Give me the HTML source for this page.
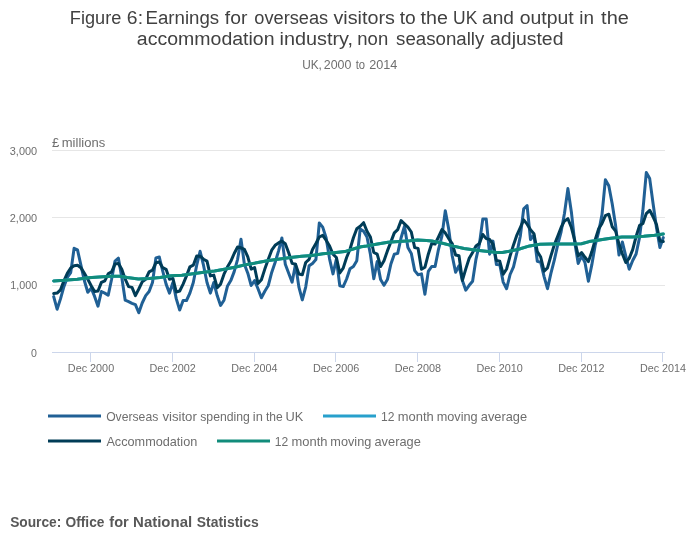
<!DOCTYPE html>
<html lang="en"><head><meta charset="utf-8"><title>Figure 6: Earnings for overseas visitors to the UK and output in the accommodation industry</title>
<style>
html,body{margin:0;padding:0;background:#fff;}
body{width:700px;height:549px;overflow:hidden;font-family:"Liberation Sans",sans-serif;}
svg{display:block;}
text{font-family:"Liberation Sans",sans-serif;}
.t{font-size:18px;fill:#414141;}
.st{font-size:12px;fill:#6e6e6e;}
.ax{font-size:10.5px;fill:#6e6e6e;}
.lg{font-size:13px;fill:#6e6e6e;}
.src{font-size:14px;font-weight:bold;fill:#585858;}
</style></head><body>
<svg width="700" height="549" viewBox="0 0 700 549">
<rect width="700" height="549" fill="#fff"/>
<!-- grid + axes -->
<path d="M52 150.5H665M52 217.5H665M52 285.5H665" stroke="#e6e6e6" stroke-width="1" shape-rendering="crispEdges"/>
<path d="M52 352.5H665" stroke="#ccd6eb" stroke-width="1" shape-rendering="crispEdges"/>
<path d="M90.5 352v10M172.5 352v10M254.5 352v10M335.5 352v10M417.5 352v10M499.5 352v10M581.5 352v10M662.5 352v10" stroke="#ccd6eb" stroke-width="1" shape-rendering="crispEdges"/>
<!-- series -->
<g fill="none" stroke-width="3" stroke-linejoin="round" stroke-linecap="round">
<path stroke="#206095" d="M53.7 296.6 L57.1 309.2 L60.5 298.9 L63.9 286.6 L67.3 277.5 L70.7 272.6 L74.1 248.3 L77.5 249.9 L80.9 265.2 L84.4 280.8 L87.8 292.3 L91.2 288.2 L94.6 296.4 L98.0 306.2 L101.4 291.5 L104.8 293.1 L108.2 295.2 L111.6 279.2 L115.0 261.1 L118.4 258.2 L121.8 277.5 L125.2 300.2 L128.6 301.6 L132.0 303.3 L135.4 304.6 L138.8 312.8 L142.2 303.0 L145.7 295.6 L149.1 291.5 L152.5 282.5 L155.9 257.9 L159.3 257.0 L162.7 271.0 L166.1 284.1 L169.5 293.1 L172.9 282.5 L176.3 298.9 L179.7 310.0 L183.1 300.5 L186.5 300.5 L189.9 293.1 L193.3 282.5 L196.7 265.2 L200.1 251.3 L203.5 265.2 L207.0 282.5 L210.4 293.1 L213.8 282.5 L217.2 295.6 L220.6 305.4 L224.0 300.2 L227.4 286.3 L230.8 280.6 L234.2 271.6 L237.6 259.3 L241.0 239.3 L244.4 264.2 L247.8 273.2 L251.2 285.5 L254.6 280.6 L258.0 288.8 L261.4 297.8 L264.8 291.2 L268.3 285.5 L271.7 272.4 L275.1 262.5 L278.5 251.1 L281.9 238.0 L285.3 264.2 L288.7 273.2 L292.1 282.2 L295.5 264.2 L298.9 287.1 L302.3 299.9 L305.7 287.1 L309.1 265.8 L312.5 263.4 L315.9 259.5 L319.3 223.0 L322.7 227.1 L326.1 237.8 L329.6 259.1 L333.0 273.9 L336.4 259.1 L339.8 285.7 L343.2 286.6 L346.6 279.0 L350.0 268.8 L353.4 266.5 L356.8 260.7 L360.2 228.9 L363.6 231.2 L367.0 237.0 L370.4 254.2 L373.8 278.8 L377.2 261.6 L380.6 279.6 L384.0 285.3 L387.4 279.6 L390.9 264.0 L394.3 254.2 L397.7 253.4 L401.1 237.8 L404.5 226.3 L407.9 247.6 L411.3 253.4 L414.7 270.6 L418.1 274.7 L421.5 273.9 L424.9 294.3 L428.3 271.4 L431.7 266.5 L435.1 266.5 L438.5 249.3 L441.9 236.1 L445.3 210.7 L448.7 229.0 L452.2 255.8 L455.6 272.2 L459.0 265.7 L462.4 280.4 L465.8 290.2 L469.2 285.3 L472.6 281.2 L476.0 259.1 L479.4 244.3 L482.8 218.9 L486.2 218.9 L489.6 254.2 L493.0 241.1 L496.4 264.6 L499.8 264.8 L503.2 282.1 L506.6 288.7 L510.1 274.5 L513.5 266.8 L516.9 252.6 L520.3 236.2 L523.7 208.9 L527.1 205.6 L530.5 239.5 L533.9 235.1 L537.3 261.3 L540.7 262.4 L544.1 276.6 L547.5 288.7 L550.9 273.4 L554.3 260.2 L557.7 244.9 L561.1 231.8 L564.5 213.3 L567.9 188.6 L571.4 212.2 L574.8 242.8 L578.2 263.5 L581.6 255.9 L585.0 262.7 L588.4 281.2 L591.8 264.9 L595.2 245.2 L598.6 232.1 L602.0 214.6 L605.4 179.7 L608.8 185.8 L612.2 203.7 L615.6 225.6 L619.0 255.1 L622.4 242.0 L625.8 256.2 L629.2 269.2 L632.7 260.5 L636.1 254.0 L639.5 237.6 L642.9 210.3 L646.3 172.6 L649.7 178.6 L653.1 203.7 L656.5 227.8 L659.9 247.4 L663.3 237.6"/>
<path stroke="#003c57" d="M53.7 293.6 L57.1 293.1 L60.5 289.8 L63.9 280.8 L67.3 273.4 L70.7 268.0 L74.1 265.7 L77.5 265.2 L80.9 267.7 L84.4 273.4 L87.8 279.2 L91.2 285.7 L94.6 291.5 L98.0 291.0 L101.4 282.4 L104.8 280.8 L108.2 273.9 L111.6 271.8 L115.0 264.1 L118.4 263.6 L121.8 269.3 L125.2 279.2 L128.6 286.6 L132.0 287.4 L135.4 295.6 L138.8 289.0 L142.2 281.8 L145.7 279.2 L149.1 271.8 L152.5 270.2 L155.9 262.8 L159.3 262.0 L162.7 267.7 L166.1 269.3 L169.5 279.2 L172.9 278.4 L176.3 292.0 L179.7 291.0 L183.1 284.1 L186.5 275.9 L189.9 266.9 L193.3 265.2 L196.7 255.9 L200.1 256.2 L203.5 259.2 L207.0 261.1 L210.4 275.9 L213.8 275.1 L217.2 287.7 L220.6 284.1 L224.0 274.2 L227.4 267.1 L230.8 261.3 L234.2 253.5 L237.6 247.0 L241.0 247.8 L244.4 249.4 L247.8 256.8 L251.2 269.1 L254.6 267.5 L258.0 283.5 L261.4 279.8 L264.8 269.1 L268.3 259.3 L271.7 250.2 L275.1 245.3 L278.5 242.9 L281.9 241.2 L285.3 243.7 L288.7 252.7 L292.1 263.4 L295.5 264.2 L298.9 274.0 L302.3 274.8 L305.7 262.5 L309.1 259.3 L312.5 249.4 L315.9 243.5 L319.3 237.0 L322.7 235.3 L326.1 240.2 L329.6 246.0 L333.0 254.2 L336.4 257.5 L339.8 273.0 L343.2 268.1 L346.6 257.5 L350.0 249.3 L353.4 237.8 L356.8 228.8 L360.2 226.3 L363.6 222.7 L367.0 231.2 L370.4 237.0 L373.8 252.5 L377.2 254.2 L380.6 266.5 L384.0 260.7 L387.4 250.9 L390.9 241.9 L394.3 232.9 L397.7 229.6 L401.1 220.6 L404.5 223.9 L407.9 227.1 L411.3 232.0 L414.7 247.6 L418.1 248.4 L421.5 269.3 L424.9 267.3 L428.3 254.2 L431.7 243.5 L435.1 244.0 L438.5 237.0 L441.9 229.6 L445.3 232.9 L448.7 238.6 L452.2 243.5 L455.6 255.0 L459.0 255.8 L462.4 280.4 L465.8 268.9 L469.2 258.3 L472.6 252.5 L476.0 246.0 L479.4 243.5 L482.8 234.5 L486.2 238.6 L489.6 239.4 L493.0 244.3 L496.4 260.5 L499.8 261.3 L503.2 274.2 L506.6 269.0 L510.1 255.9 L513.5 244.9 L516.9 235.1 L520.3 227.5 L523.7 219.8 L527.1 224.2 L530.5 229.6 L533.9 233.6 L537.3 251.5 L540.7 257.0 L544.1 271.2 L547.5 267.9 L550.9 255.9 L554.3 244.9 L557.7 236.2 L561.1 227.5 L564.5 220.9 L567.9 218.7 L571.4 227.5 L574.8 240.6 L578.2 255.9 L581.6 252.6 L585.0 257.3 L588.4 261.6 L591.8 251.8 L595.2 239.8 L598.6 228.9 L602.0 223.4 L605.4 215.7 L608.8 214.2 L612.2 226.7 L615.6 231.0 L619.0 244.2 L622.4 254.0 L625.8 262.5 L629.2 258.4 L632.7 249.6 L636.1 236.5 L639.5 225.6 L642.9 223.4 L646.3 213.6 L649.7 210.3 L653.1 216.8 L656.5 224.5 L659.9 241.0 L663.3 241.5"/>
<path stroke="#27a0cc" d="M53.7 280.9 L64.2 280.3 L77.3 279.2 L88.3 277.8 L99.2 277.0 L110.9 276.3 L119.7 276.3 L127.3 277.6 L138.3 278.9 L149.2 278.4 L160.1 277.4 L171.0 275.7 L181.9 275.3 L192.8 273.7 L203.7 272.3 L214.6 271.0 L225.6 269.0 L236.0 267.0 L246.9 264.4 L257.9 262.6 L268.8 260.6 L279.7 259.0 L290.6 257.5 L301.6 256.2 L312.0 255.5 L322.9 253.8 L333.9 252.7 L344.8 251.6 L355.7 248.3 L361.2 246.7 L366.6 245.9 L377.6 244.0 L388.0 242.3 L398.9 241.5 L409.9 240.8 L417.5 239.9 L426.3 240.5 L431.7 240.9 L442.6 243.3 L453.6 246.1 L464.0 248.5 L474.9 250.0 L485.9 251.3 L496.8 252.4 L502.3 252.4 L507.7 251.6 L518.6 249.2 L529.6 245.9 L540.0 244.2 L550.9 244.0 L561.9 244.0 L572.8 244.0 L581.5 243.8 L589.2 241.6 L594.6 240.8 L605.6 238.9 L610.9 238.2 L621.9 237.1 L632.8 236.9 L643.7 236.3 L654.6 235.2 L663.3 233.9"/>
<path stroke="#118c7b" d="M53.7 280.9 L64.2 280.3 L77.3 279.2 L88.3 277.8 L99.2 277.0 L110.9 276.3 L119.7 276.3 L127.3 277.6 L138.3 278.9 L149.2 278.4 L160.1 277.4 L171.0 275.7 L181.9 275.3 L192.8 273.7 L203.7 272.3 L214.6 271.0 L225.6 269.0 L236.0 267.0 L246.9 264.4 L257.9 262.6 L268.8 260.6 L279.7 259.0 L290.6 257.5 L301.6 256.2 L312.0 255.5 L322.9 253.8 L333.9 252.7 L344.8 251.6 L355.7 248.3 L361.2 246.7 L366.6 245.9 L377.6 244.0 L388.0 242.3 L398.9 241.5 L409.9 240.8 L417.5 239.9 L426.3 240.5 L431.7 240.9 L442.6 243.3 L453.6 246.1 L464.0 248.5 L474.9 250.0 L485.9 251.3 L496.8 252.4 L502.3 252.4 L507.7 251.6 L518.6 249.2 L529.6 245.9 L540.0 244.2 L550.9 244.0 L561.9 244.0 L572.8 244.0 L581.5 243.8 L589.2 241.6 L594.6 240.8 L605.6 238.9 L610.9 238.2 L621.9 237.1 L632.8 236.9 L643.7 236.3 L654.6 235.2 L663.3 233.9"/>
</g>
<!-- legend symbols -->
<g stroke-width="3" fill="none">
<path d="M48 416H101" stroke="#206095"/>
<path d="M323 416H376" stroke="#27a0cc"/>
<path d="M48 441H101" stroke="#003c57"/>
<path d="M217 441H270" stroke="#118c7b"/>
</g>
<!-- text (own compositing layer forces greyscale anti-aliasing) -->
<g style="will-change:transform">
<text class="t" x="69.89" y="23.6" textLength="51.5" lengthAdjust="spacingAndGlyphs">Figure</text>
<text class="t" x="126.89" y="23.6" textLength="16.13" lengthAdjust="spacingAndGlyphs">6:</text>
<text class="t" x="145.55" y="23.6" textLength="73.62" lengthAdjust="spacingAndGlyphs">Earnings</text>
<text class="t" x="224.83" y="23.6" textLength="22.55" lengthAdjust="spacingAndGlyphs">for</text>
<text class="t" x="254.34" y="23.6" textLength="73.91" lengthAdjust="spacingAndGlyphs">overseas</text>
<text class="t" x="333.4" y="23.6" textLength="61.47" lengthAdjust="spacingAndGlyphs">visitors</text>
<text class="t" x="399.73" y="23.6" textLength="15.98" lengthAdjust="spacingAndGlyphs">to</text>
<text class="t" x="420.63" y="23.6" textLength="27.33" lengthAdjust="spacingAndGlyphs">the</text>
<text class="t" x="453.09" y="23.6" textLength="24.27" lengthAdjust="spacingAndGlyphs">UK</text>
<text class="t" x="482.1" y="23.6" textLength="31.91" lengthAdjust="spacingAndGlyphs">and</text>
<text class="t" x="519.79" y="23.6" textLength="53.96" lengthAdjust="spacingAndGlyphs">output</text>
<text class="t" x="579.29" y="23.6" textLength="14.67" lengthAdjust="spacingAndGlyphs">in</text>
<text class="t" x="601.12" y="23.6" textLength="27.74" lengthAdjust="spacingAndGlyphs">the</text>
<text class="t" x="136.89" y="44.6" textLength="137.68" lengthAdjust="spacingAndGlyphs">accommodation</text>
<text class="t" x="279.52" y="44.6" textLength="73.48" lengthAdjust="spacingAndGlyphs">industry,</text>
<text class="t" x="357.32" y="44.6" textLength="30.86" lengthAdjust="spacingAndGlyphs">non</text>
<text class="t" x="396.08" y="44.6" textLength="88.28" lengthAdjust="spacingAndGlyphs">seasonally</text>
<text class="t" x="490.09" y="44.6" textLength="73.35" lengthAdjust="spacingAndGlyphs">adjusted</text>
<text class="st" x="302.16" y="68.5" textLength="19.74" lengthAdjust="spacingAndGlyphs">UK,</text>
<text class="st" x="323.78" y="68.5" textLength="27.58" lengthAdjust="spacingAndGlyphs">2000</text>
<text class="st" x="355.7" y="68.5" textLength="9.38" lengthAdjust="spacingAndGlyphs">to</text>
<text class="st" x="369.17" y="68.5" textLength="28.14" lengthAdjust="spacingAndGlyphs">2014</text>
<text class="st" x="52.03" y="147.1" textLength="7.28" lengthAdjust="spacingAndGlyphs">£</text>
<text class="st" x="61.79" y="147.1" textLength="43.37" lengthAdjust="spacingAndGlyphs">millions</text>
<text class="ax" x="9.78" y="154.6" textLength="27.41" lengthAdjust="spacingAndGlyphs">3,000</text>
<text class="ax" x="9.78" y="221.8" textLength="27.41" lengthAdjust="spacingAndGlyphs">2,000</text>
<text class="ax" x="10.33" y="289.0" textLength="26.85" lengthAdjust="spacingAndGlyphs">1,000</text>
<text class="ax" x="30.95" y="356.5" textLength="5.9" lengthAdjust="spacingAndGlyphs">0</text>
<text class="ax" x="67.83" y="371.7" textLength="46.34" lengthAdjust="spacingAndGlyphs">Dec 2000</text>
<text class="ax" x="149.56" y="371.7" textLength="46.34" lengthAdjust="spacingAndGlyphs">Dec 2002</text>
<text class="ax" x="231.3" y="371.7" textLength="46.08" lengthAdjust="spacingAndGlyphs">Dec 2004</text>
<text class="ax" x="313.03" y="371.7" textLength="46.34" lengthAdjust="spacingAndGlyphs">Dec 2006</text>
<text class="ax" x="394.76" y="371.7" textLength="46.34" lengthAdjust="spacingAndGlyphs">Dec 2008</text>
<text class="ax" x="476.5" y="371.7" textLength="46.34" lengthAdjust="spacingAndGlyphs">Dec 2010</text>
<text class="ax" x="558.23" y="371.7" textLength="46.34" lengthAdjust="spacingAndGlyphs">Dec 2012</text>
<text class="ax" x="639.97" y="371.7" textLength="46.08" lengthAdjust="spacingAndGlyphs">Dec 2014</text>
<text class="lg" x="106.13" y="421.0" textLength="52.13" lengthAdjust="spacingAndGlyphs">Overseas</text>
<text class="lg" x="162.4" y="421.0" textLength="34.41" lengthAdjust="spacingAndGlyphs">visitor</text>
<text class="lg" x="200.27" y="421.0" textLength="49.57" lengthAdjust="spacingAndGlyphs">spending</text>
<text class="lg" x="252.86" y="421.0" textLength="10.01" lengthAdjust="spacingAndGlyphs">in</text>
<text class="lg" x="265.9" y="421.0" textLength="16.74" lengthAdjust="spacingAndGlyphs">the</text>
<text class="lg" x="285.61" y="421.0" textLength="17.79" lengthAdjust="spacingAndGlyphs">UK</text>
<text class="lg" x="380.97" y="421.0" textLength="13.47" lengthAdjust="spacingAndGlyphs">12</text>
<text class="lg" x="397.85" y="421.0" textLength="35.93" lengthAdjust="spacingAndGlyphs">month</text>
<text class="lg" x="436.67" y="421.0" textLength="40.99" lengthAdjust="spacingAndGlyphs">moving</text>
<text class="lg" x="480.81" y="421.0" textLength="46.27" lengthAdjust="spacingAndGlyphs">average</text>
<text class="lg" x="106.4" y="446.0" textLength="90.9" lengthAdjust="spacingAndGlyphs">Accommodation</text>
<text class="lg" x="274.67" y="446.0" textLength="13.47" lengthAdjust="spacingAndGlyphs">12</text>
<text class="lg" x="291.55" y="446.0" textLength="35.93" lengthAdjust="spacingAndGlyphs">month</text>
<text class="lg" x="330.37" y="446.0" textLength="40.99" lengthAdjust="spacingAndGlyphs">moving</text>
<text class="lg" x="374.51" y="446.0" textLength="46.27" lengthAdjust="spacingAndGlyphs">average</text>
<text class="src" x="10.15" y="526.5" textLength="51.2" lengthAdjust="spacingAndGlyphs">Source:</text>
<text class="src" x="65.51" y="526.5" textLength="38.92" lengthAdjust="spacingAndGlyphs">Office</text>
<text class="src" x="109.34" y="526.5" textLength="19.44" lengthAdjust="spacingAndGlyphs">for</text>
<text class="src" x="133.1" y="526.5" textLength="59.05" lengthAdjust="spacingAndGlyphs">National</text>
<text class="src" x="196.85" y="526.5" textLength="61.85" lengthAdjust="spacingAndGlyphs">Statistics</text>
</g>
</svg>
</body></html>
